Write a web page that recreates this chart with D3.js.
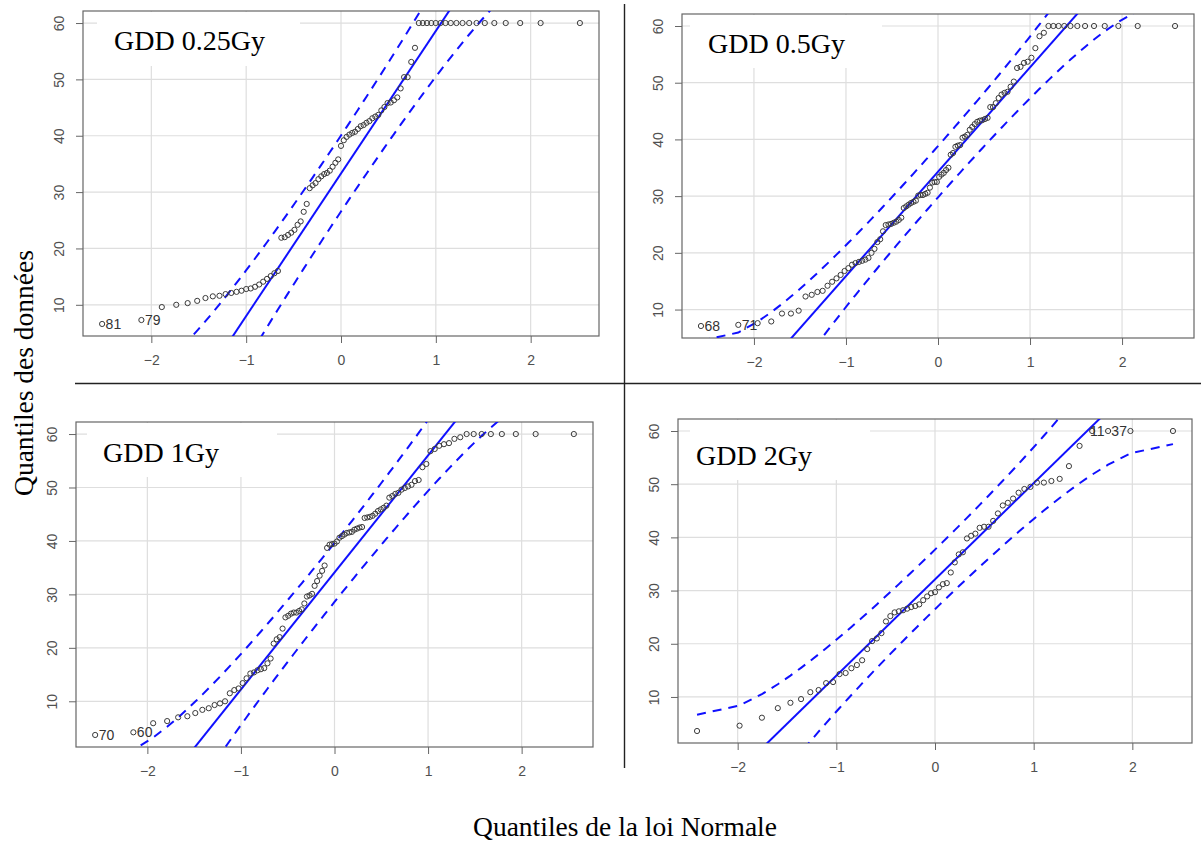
<!DOCTYPE html>
<html><head><meta charset="utf-8">
<script src="https://cdn.jsdelivr.net/npm/d3@7"></script>
<style>body{margin:0;background:#fff}</style>
</head><body>
<svg id="c" width="1201" height="841"></svg>
<script>
// ---------- data ----------
const panelTitles = ["GDD 0.25Gy", "GDD 0.5Gy", "GDD 1Gy", "GDD 2Gy"];
const xTicks = [-2, -1, 0, 1, 2];
const yTicks = [10, 20, 30, 40, 50, 60];
const xAxisTitle = "Quantiles de la loi Normale";
const yAxisTitle = "Quantiles des données";

// sorted sample values (sample quantiles) of each panel
const gdd025 = [6.6,7.3,9.6,10.0,10.3,10.7,11.2,11.5,11.6,11.9,12.1,12.3,12.5,12.8,12.9,13.2,13.6,14.1,14.6,15.1,15.6,16.0,21.9,22.0,22.4,22.8,23.3,24.2,24.8,26.5,27.9,30.7,31.2,31.6,32.3,32.8,33.2,33.4,33.8,34.5,35.2,35.8,38.2,39.2,39.8,40.2,40.5,40.7,41.2,41.7,41.9,42.3,42.6,43.1,43.4,43.7,44.5,45.1,45.8,45.9,46.3,46.8,48.4,50.4,50.4,53.1,55.6,60,60,60,60,60,60,60,60,60,60,60,60,60,60,60,60,60,60];
const gdd05 = [7.1,7.3,7.6,7.9,9.3,9.3,9.8,12.3,12.6,13.1,13.3,14.2,14.9,15.5,16.1,16.8,17.3,17.9,18.2,18.4,18.6,18.8,19.1,20.0,20.7,21.9,22.4,23.8,24.9,25.0,25.1,25.3,25.5,25.8,26.2,27.9,28.2,28.5,28.8,29.0,29.2,30.1,30.2,30.2,30.4,30.6,31.5,32.4,32.5,32.5,33.4,33.8,34.1,34.6,35.0,37.3,37.6,38.7,38.9,39.0,40.3,40.5,40.8,41.7,42.2,42.7,43.1,43.3,43.4,43.6,43.8,45.7,45.7,46.4,47.3,47.9,48.2,48.4,49.3,50.2,52.6,52.8,53.5,53.7,54.4,56.1,58.2,58.8,60,60,60,60,60,60,60,60,60,60,60,60];
const gdd1 = [3.7,4.2,5.9,6.3,7.0,7.2,7.8,8.4,8.7,9.3,9.6,10.0,11.5,12.1,12.4,13.4,14.3,15.2,15.4,15.8,16.0,16.2,17.1,18.0,20.8,21.6,22.0,23.6,25.7,26.0,26.4,26.6,26.6,26.9,27.2,28.3,29.6,29.8,30.1,31.6,32.5,33.5,34.4,35.4,38.7,39.3,39.4,39.5,39.9,40.6,40.9,41.2,41.5,41.6,41.7,42.1,42.3,42.5,42.6,44.3,44.4,44.5,44.7,45.1,45.6,45.9,46.2,46.6,48.1,48.4,48.8,49.0,49.6,49.9,50.2,50.5,51.2,51.4,53.8,54.4,56.8,57.2,57.8,58.1,58.3,59.1,59.4,60,60,60,60,60,60,60,60];
const gdd2 = [3.6,4.6,6.1,7.9,8.9,9.6,10.9,11.3,12.6,12.8,14.3,14.5,15.4,16.0,16.9,19.0,20.5,21.0,22.0,24.2,25.2,25.9,26.1,26.3,26.6,26.9,27.1,27.4,28.2,28.9,29.5,29.7,30.6,31.2,31.4,33.4,35.3,36.8,37.2,39.8,40.3,40.7,41.8,42.0,42.0,43.1,44.5,46.0,46.5,47.3,48.4,49.1,49.5,50.3,50.3,50.6,51.0,53.4,57.2,60,60,60,60];

// reference line (intercept, slope) per panel
const lineIntercept = [33.3, 34.3, 34.1, 32.1];
const lineSlope = [25.3, 18.4, 21.9, 18.1];

// identified points: rank in sorted sample and label
const idRanks = [[1, 2], [1, 2], [1, 2], [61, 62]];
const idTexts = [["81", "79"], ["68", "71"], ["70", "60"], ["11", "37"]];

const samples = [gdd025, gdd05, gdd1, gdd2];

// ---------- layout ----------
const boxes = [
  {l: 83, r: 599, t: 11, b: 336, title: {x: 31, y: 39, rx0: 14, rx1: 217, rh: 55}},
  {l: 682, r: 1194, t: 14, b: 338, title: {x: 26, y: 39, rx0: 8, rx1: 200, rh: 54}},
  {l: 76, r: 593, t: 422, b: 747, title: {x: 27, y: 40, rx0: 11, rx1: 201, rh: 55}},
  {l: 678, r: 1192, t: 419, b: 743, title: {x: 18, y: 46, rx0: 12, rx1: 192, rh: 61}}
];

// ---------- helpers ----------
function qnorm(p) {
  const a=[-3.969683028665376e+01,2.209460984245205e+02,-2.759285104469687e+02,1.383577518672690e+02,-3.066479806614716e+01,2.506628277459239e+00];
  const b=[-5.447609879822406e+01,1.615858368580409e+02,-1.556989798598866e+02,6.680131188771972e+01,-1.328068155288572e+01];
  const c=[-7.784894002430293e-03,-3.223964580411365e-01,-2.400758277161838e+00,-2.549732539343734e+00,4.374664141464968e+00,2.938163982698783e+00];
  const d=[7.784695709041462e-03,3.224671290700398e-01,2.445134137142996e+00,3.754408661907416e+00];
  const pl=0.02425, ph=1-pl; let q, r;
  if (p < pl) { q=Math.sqrt(-2*Math.log(p)); return (((((c[0]*q+c[1])*q+c[2])*q+c[3])*q+c[4])*q+c[5])/((((d[0]*q+d[1])*q+d[2])*q+d[3])*q+1); }
  if (p <= ph) { q=p-0.5; r=q*q; return (((((a[0]*r+a[1])*r+a[2])*r+a[3])*r+a[4])*r+a[5])*q/(((((b[0]*r+b[1])*r+b[2])*r+b[3])*r+b[4])*r+1); }
  q=Math.sqrt(-2*Math.log(1-p)); return -(((((c[0]*q+c[1])*q+c[2])*q+c[3])*q+c[4])*q+c[5])/((((d[0]*q+d[1])*q+d[2])*q+d[3])*q+1);
}
const dnorm = z => Math.exp(-z*z/2)/Math.sqrt(2*Math.PI);
function pad(ext) { const d = (ext[1]-ext[0])*0.04; return [ext[0]-d, ext[1]+d]; }

const svg = d3.select("#c");
svg.append("rect").attr("width",1201).attr("height",841).attr("fill","#fff");

const BLUE = "#1010ff";

samples.forEach((vals, k) => {
  const B = boxes[k];
  const n = vals.length;
  const a = n <= 10 ? 3/8 : 0.5;
  const pts = vals.map((v, i) => {
    const p = (i + 1 - a) / (n + 1 - 2*a);
    return {z: qnorm(p), p: p, v: v, rank: i + 1};
  });
  const x = d3.scaleLinear().domain(pad(d3.extent(pts, d => d.z))).range([B.l, B.r]);
  const y = d3.scaleLinear().domain(pad(d3.extent(pts, d => d.v))).range([B.b, B.t]);

  const g = svg.append("g");
  const clipId = "clip" + k;
  g.append("clipPath").attr("id", clipId).append("rect")
    .attr("x", B.l).attr("y", B.t).attr("width", B.r - B.l).attr("height", B.b - B.t);

  // grid
  g.append("g").selectAll("line").data(xTicks).join("line")
    .attr("x1", d => x(d)).attr("x2", d => x(d)).attr("y1", B.t).attr("y2", B.b)
    .attr("stroke", "#dedede").attr("stroke-width", 1.2);
  g.append("g").selectAll("line").data(yTicks).join("line")
    .attr("y1", d => y(d)).attr("y2", d => y(d)).attr("x1", B.l).attr("x2", B.r)
    .attr("stroke", "#dedede").attr("stroke-width", 1.2);

  // title box
  g.append("rect").attr("x", B.l + B.title.rx0).attr("y", B.t + 1)
    .attr("width", B.title.rx1 - B.title.rx0).attr("height", B.title.rh - 1).attr("fill", "#fff");
  g.append("text").attr("x", B.l + B.title.x).attr("y", B.t + B.title.y)
    .attr("font-family", "'Liberation Serif','Times New Roman',serif").attr("font-size", 28)
    .attr("fill", "#000").text(panelTitles[k]);

  // axes
  const ax = g.append("g").attr("transform", `translate(0,${B.b})`)
    .call(d3.axisBottom(x).tickValues(xTicks).tickSize(7).tickPadding(12).tickFormat(d3.format("d")));
  const ay = g.append("g").attr("transform", `translate(${B.l},0)`)
    .call(d3.axisLeft(y).tickValues(yTicks).tickSize(7).tickFormat(d3.format("d")));
  [ax, ay].forEach(s => {
    s.select(".domain").remove();
    s.selectAll(".tick line").attr("stroke", "#666").attr("stroke-width", 1);
    s.selectAll(".tick text").attr("fill", "#505050").attr("font-family", "'Liberation Sans',Arial,sans-serif").attr("font-size", 14);
  });
  ay.selectAll(".tick text").attr("transform", "rotate(-90)").attr("x", 0).attr("y", -19.5)
    .attr("dy", 0).attr("text-anchor", "middle");

  // box
  g.append("rect").attr("x", B.l).attr("y", B.t).attr("width", B.r - B.l).attr("height", B.b - B.t)
    .attr("fill", "none").attr("stroke", "#666").attr("stroke-width", 1.2);

  // reference line and envelope
  const ia = lineIntercept[k], sb = lineSlope[k];
  const zz = qnorm(0.975);
  const fit = z => ia + sb * z;
  const se = d => (sb / dnorm(d.z)) * Math.sqrt(d.p * (1 - d.p) / n);
  const lg = g.append("g").attr("clip-path", `url(#${clipId})`);
  const dom = x.domain();
  lg.append("line").attr("x1", x(dom[0])).attr("x2", x(dom[1]))
    .attr("y1", y(fit(dom[0]))).attr("y2", y(fit(dom[1])))
    .attr("stroke", BLUE).attr("stroke-width", 2);
  const env = sgn => d3.line().x(d => x(d.z)).y(d => y(fit(d.z) + sgn * zz * se(d)));
  [1, -1].forEach(sgn => {
    lg.append("path").attr("d", env(sgn)(pts)).attr("fill", "none")
      .attr("stroke", BLUE).attr("stroke-width", 2).attr("stroke-dasharray", "9,7");
  });

  // points
  g.append("g").selectAll("circle").data(pts).join("circle")
    .attr("cx", d => x(d.z)).attr("cy", d => y(d.v)).attr("r", 2.6)
    .attr("fill", "none").attr("stroke", "#3a3a3a").attr("stroke-width", 1);

  // id labels
  idRanks[k].forEach((rk, j) => {
    const d = pts[rk - 1];
    const right = d.z < 0;
    g.append("text").attr("x", x(d.z) + (right ? 3.5 : -3.5)).attr("y", y(d.v)).attr("dy", "0.36em")
      .attr("text-anchor", right ? "start" : "end")
      .attr("font-family", "'Liberation Sans',Arial,sans-serif").attr("font-size", 14)
      .attr("fill", "#333").text(idTexts[k][j]);
  });
});

// dividers
svg.append("line").attr("x1", 75).attr("x2", 1201).attr("y1", 383.5).attr("y2", 383.5)
  .attr("stroke", "#222").attr("stroke-width", 1.4);
svg.append("line").attr("x1", 624.5).attr("x2", 624.5).attr("y1", 4).attr("y2", 768)
  .attr("stroke", "#222").attr("stroke-width", 1.4);

// global axis titles
svg.append("text").attr("x", 625).attr("y", 836).attr("text-anchor", "middle")
  .attr("font-family", "'Liberation Serif','Times New Roman',serif").attr("font-size", 27.5)
  .attr("fill", "#000").text(xAxisTitle);
svg.append("text").attr("transform", "translate(33,373) rotate(-90)").attr("text-anchor", "middle")
  .attr("font-family", "'Liberation Serif','Times New Roman',serif").attr("font-size", 27.5)
  .attr("fill", "#000").text(yAxisTitle);
</script>
</body></html>
